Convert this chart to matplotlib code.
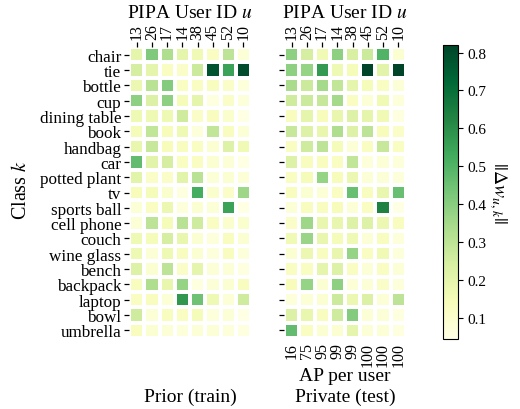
import numpy as np
import matplotlib
matplotlib.use("Agg")
import matplotlib.pyplot as plt

plt.rcParams["font.family"] = ["Liberation Serif", "DejaVu Serif"]
plt.rcParams["mathtext.fontset"] = "stix"

classes = ["chair", "tie", "bottle", "cup", "dining table", "book", "handbag",
           "car", "potted plant", "tv", "sports ball", "cell phone", "couch",
           "wine glass", "bench", "backpack", "laptop", "bowl", "umbrella"]
user_ids = ["13", "26", "17", "14", "38", "45", "52", "10"]
ap_per_user = ["16", "75", "95", "99", "99", "100", "100", "100"]

# norm of the per-user weight change, rows = classes, cols = users
prior_train = [
    [0.20, 0.42, 0.33, 0.20, 0.16, 0.12, 0.30, 0.08],
    [0.25, 0.20, 0.12, 0.11, 0.27, 0.78, 0.55, 0.80],
    [0.18, 0.31, 0.41, 0.12, 0.12, 0.13, 0.11, 0.07],
    [0.39, 0.23, 0.39, 0.15, 0.20, 0.06, 0.11, 0.07],
    [0.17, 0.17, 0.17, 0.26, 0.11, 0.13, 0.10, 0.05],
    [0.15, 0.29, 0.14, 0.17, 0.07, 0.29, 0.13, 0.08],
    [0.19, 0.28, 0.14, 0.13, 0.12, 0.09, 0.22, 0.16],
    [0.47, 0.21, 0.25, 0.12, 0.12, 0.09, 0.08, 0.05],
    [0.21, 0.11, 0.11, 0.21, 0.31, 0.08, 0.09, 0.08],
    [0.14, 0.15, 0.10, 0.06, 0.52, 0.10, 0.11, 0.36],
    [0.08, 0.12, 0.18, 0.07, 0.09, 0.08, 0.55, 0.05],
    [0.08, 0.30, 0.15, 0.31, 0.26, 0.12, 0.10, 0.10],
    [0.17, 0.15, 0.25, 0.19, 0.09, 0.07, 0.13, 0.09],
    [0.17, 0.08, 0.17, 0.13, 0.09, 0.07, 0.13, 0.07],
    [0.22, 0.09, 0.30, 0.11, 0.20, 0.08, 0.08, 0.06],
    [0.13, 0.33, 0.19, 0.38, 0.06, 0.08, 0.09, 0.13],
    [0.12, 0.13, 0.08, 0.58, 0.45, 0.17, 0.08, 0.26],
    [0.26, 0.08, 0.13, 0.12, 0.15, 0.07, 0.08, 0.05],
    [0.13, 0.09, 0.08, 0.07, 0.08, 0.08, 0.07, 0.06],
]
private_test = [
    [0.39, 0.25, 0.16, 0.39, 0.24, 0.27, 0.50, 0.09],
    [0.39, 0.38, 0.57, 0.17, 0.15, 0.82, 0.21, 0.82],
    [0.34, 0.27, 0.35, 0.29, 0.20, 0.15, 0.12, 0.08],
    [0.26, 0.27, 0.28, 0.35, 0.12, 0.08, 0.16, 0.07],
    [0.13, 0.20, 0.14, 0.19, 0.22, 0.20, 0.16, 0.06],
    [0.28, 0.22, 0.19, 0.33, 0.22, 0.30, 0.14, 0.11],
    [0.12, 0.26, 0.30, 0.15, 0.08, 0.12, 0.28, 0.12],
    [0.22, 0.13, 0.13, 0.12, 0.29, 0.07, 0.08, 0.07],
    [0.12, 0.15, 0.38, 0.14, 0.18, 0.08, 0.08, 0.07],
    [0.13, 0.09, 0.08, 0.12, 0.46, 0.13, 0.19, 0.46],
    [0.08, 0.13, 0.13, 0.14, 0.08, 0.12, 0.64, 0.05],
    [0.11, 0.36, 0.19, 0.19, 0.22, 0.22, 0.18, 0.13],
    [0.16, 0.37, 0.19, 0.15, 0.17, 0.08, 0.13, 0.07],
    [0.09, 0.18, 0.13, 0.19, 0.38, 0.12, 0.16, 0.07],
    [0.12, 0.12, 0.20, 0.22, 0.12, 0.08, 0.12, 0.08],
    [0.14, 0.38, 0.09, 0.39, 0.08, 0.08, 0.11, 0.07],
    [0.07, 0.08, 0.09, 0.27, 0.18, 0.23, 0.08, 0.30],
    [0.23, 0.19, 0.13, 0.26, 0.41, 0.08, 0.08, 0.06],
    [0.47, 0.12, 0.09, 0.09, 0.20, 0.08, 0.08, 0.06],
]

prior = np.array(prior_train)
private = np.array(private_test)
vmin = min(prior.min(), private.min()) - 0.006
vmax = max(prior.max(), private.max())

fig = plt.figure(figsize=(5.2, 4.1), dpi=100)
W, H = 520, 410
ax_l = fig.add_axes([129 / W, 1 - 339 / H, 122 / W, 291 / H])
ax_r = fig.add_axes([284 / W, 1 - 339 / H, 122 / W, 291 / H])
cax = fig.add_axes([443 / W, 1 - 340 / H, 15 / W, 294 / H])

for ax, data in [(ax_l, prior), (ax_r, private)]:
    mesh = ax.pcolormesh(data, cmap="YlGn", vmin=vmin, vmax=vmax,
                         edgecolors="white", linewidth=1.6)
    ax.set_xlim(0, len(user_ids))
    ax.set_ylim(len(classes), 0)
    for s in ax.spines.values():
        s.set_visible(False)
    ax.xaxis.tick_top()
    ax.set_xticks(np.arange(len(user_ids)) + 0.5)
    ax.set_xticklabels(user_ids, rotation=90, fontsize=11.5)
    ax.set_yticks(np.arange(len(classes)) + 0.5)
    ax.tick_params(length=3.5, width=0.9, pad=2)
    fig.text((ax.get_position().x0 + ax.get_position().x1) / 2, 1 - 14 / H,
             "PIPA User ID $u$", ha="center", va="center", fontsize=14)

ax_l.set_yticklabels(classes, fontsize=12.3)
ax_r.set_yticklabels([])

# AP of each user written under the test panel
sec = ax_r.secondary_xaxis("bottom")
sec.set_xticks(np.arange(len(user_ids)) + 0.5)
sec.set_xticklabels(ap_per_user, rotation=90, fontsize=11.5)
sec.tick_params(length=0, pad=3)
sec.spines["bottom"].set_visible(False)

fig.text(345 / W, 1 - 377 / H, "AP per user", ha="center", va="center", fontsize=14)
fig.text(190 / W, 1 - 397 / H, "Prior (train)", ha="center", va="center", fontsize=14)
fig.text(345 / W, 1 - 397 / H, "Private (test)", ha="center", va="center", fontsize=14)
fig.text(22 / W, 1 - 190 / H, "Class $k$", ha="center", va="center",
         rotation=90, fontsize=14.5)

cb = fig.colorbar(mesh, cax=cax)
cb.set_ticks([0.1, 0.2, 0.3, 0.4, 0.5, 0.6, 0.7, 0.8])
cb.ax.tick_params(labelsize=11, length=3.5, width=0.8)
cb.outline.set_linewidth(0.8)
cb.set_label(r"$||\Delta w_{u,k}||$", rotation=270, fontsize=14, labelpad=16)

fig.savefig("out.png", dpi=100)
